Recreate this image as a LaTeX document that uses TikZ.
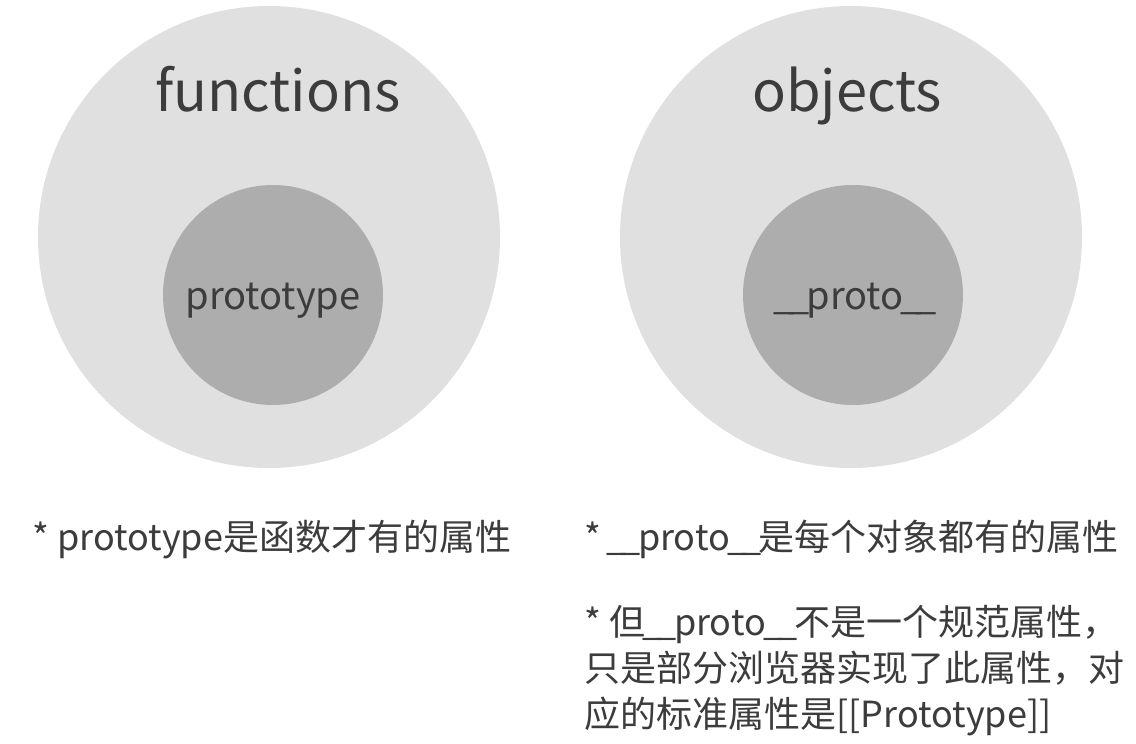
\documentclass[tikz,border=0pt]{standalone}
\usepackage{fontspec}
\setmainfont{Noto Sans CJK SC}
\definecolor{outerfill}{HTML}{E0E0E0}
\definecolor{innerfill}{HTML}{ADADAD}
\definecolor{txt}{HTML}{3C3C3C}
\newcommand{\usc}{\makebox[0.4em][c]{\_}}
\begin{document}
\begin{tikzpicture}[x=0.5pt,y=-0.5pt,
  outer/.style={circle,fill=outerfill,draw=none,inner sep=0pt,minimum size=231pt},
  inner/.style={circle,fill=innerfill,draw=none,inner sep=0pt,minimum size=110pt},
  title/.style={anchor=base,inner sep=0pt,text=txt,font=\fontsize{28pt}{34pt}\selectfont},
  label/.style={anchor=base,inner sep=0pt,text=txt,font=\fontsize{19pt}{23pt}\selectfont},
  note/.style={anchor=base west,inner sep=0pt,text=txt,font=\fontsize{18pt}{22pt}\selectfont}]
\useasboundingbox[fill=white] (0,0) rectangle (1136,744);
\node[outer] (fo) at (269,237) {};
\node[outer] (oo) at (851,237) {};
\node[inner] (fi) at (273,295) {};
\node[inner] (oi) at (853,295) {};
\node[title] (ft) at (278,111) {functions};
\node[title] (ot) at (847,111) {objects};
\node[label] (pl) at (273,309) {prototype};
\node[label] (ql) at (855,309) {\usc\usc proto\usc\usc};
\node[note] (n1) at (32,550) {* prototype是函数才有的属性};
\node[note] (n2) at (584,550) {* \usc\usc proto\usc\usc 是每个对象都有的属性};
\node[note] (n3) at (584,635) {* 但\usc\usc proto\usc\usc 不是一个规范属性，};
\node[note] (n4) at (584,681) {只是部分浏览器实现了此属性，对};
\node[note] (n5) at (584,727) {应的标准属性是[[Prototype]]};
\end{tikzpicture}
\end{document}
